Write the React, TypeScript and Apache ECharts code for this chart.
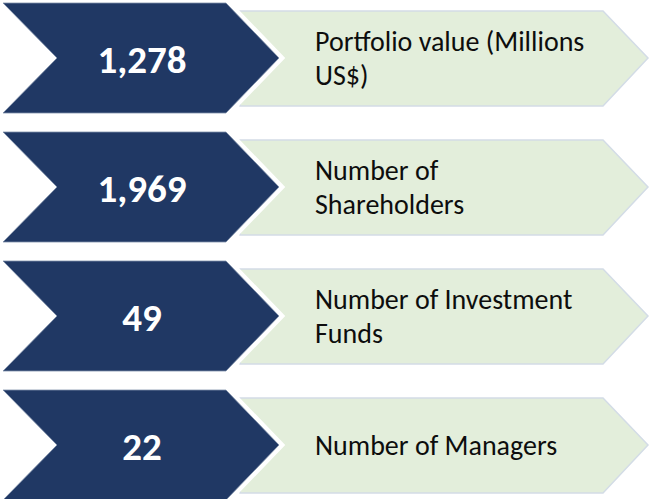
import React, { useEffect, useRef } from "react";
import * as echarts from "echarts";

const values: string[] = ["1,278", "1,969", "49", "22"];
const labels: string[][] = [
  ["Portfolio value (Millions", "US$)"],
  ["Number of", "Shareholders"],
  ["Number of Investment", "Funds"],
  ["Number of Managers"],
];

const W = 653;
const H = 499;
const DARK = "#203864";
const LIGHT = "#e3eedb";
const LIGHT_BORDER = "#d3dce6";

export default function App() {
  const ref = useRef<HTMLDivElement>(null);
  useEffect(() => {
    if (!ref.current) return;
    const chart = echarts.init(ref.current, undefined, { renderer: "svg", width: W, height: H });
    const centers = values.map((_, i) => 58 + i * 129);
    const elements: any[] = [];
    centers.forEach((cy, i) => {
      elements.push({
        type: "polygon",
        shape: {
          points: [
            [240, cy - 47],
            [603, cy - 47],
            [648, cy],
            [603, cy + 48],
            [240, cy + 48],
          ],
        },
        style: { fill: LIGHT, stroke: LIGHT_BORDER, lineWidth: 1.5 },
      });
      const dark = [
        [3, cy - 55],
        [226, cy - 55],
        [279, cy],
        [226, cy + 55],
        [3, cy + 55],
        [57, cy],
      ];
      elements.push({
        type: "polygon",
        shape: { points: dark },
        style: { fill: "#ffffff", stroke: "#ffffff", lineWidth: 9, lineJoin: "miter" },
      });
      elements.push({
        type: "polygon",
        shape: { points: dark },
        style: { fill: DARK, stroke: "#7f8fa9", lineWidth: 0.8 },
      });
      elements.push({
        type: "text",
        x: 142,
        y: cy + 1,
        style: {
          text: values[i],
          fill: "#ffffff",
          font: "bold 39px Carlito, Lato, sans-serif",
          align: "center",
          verticalAlign: "middle",
        },
      });
      elements.push({
        type: "text",
        x: 315,
        y: cy,
        style: {
          text: labels[i].join("\n"),
          fill: "#0d0d0d",
          font: "28px Carlito, Lato, sans-serif",
          lineHeight: 34,
          align: "left",
          verticalAlign: "middle",
        },
      });
    });
    chart.setOption({
      animation: false,
      backgroundColor: "#ffffff",
      graphic: { elements },
    });
    return () => chart.dispose();
  }, []);
  return (
    <div
      ref={ref}
      style={{ position: "fixed", left: 0, top: 0, width: W, height: H, background: "#fff" }}
    />
  );
}
